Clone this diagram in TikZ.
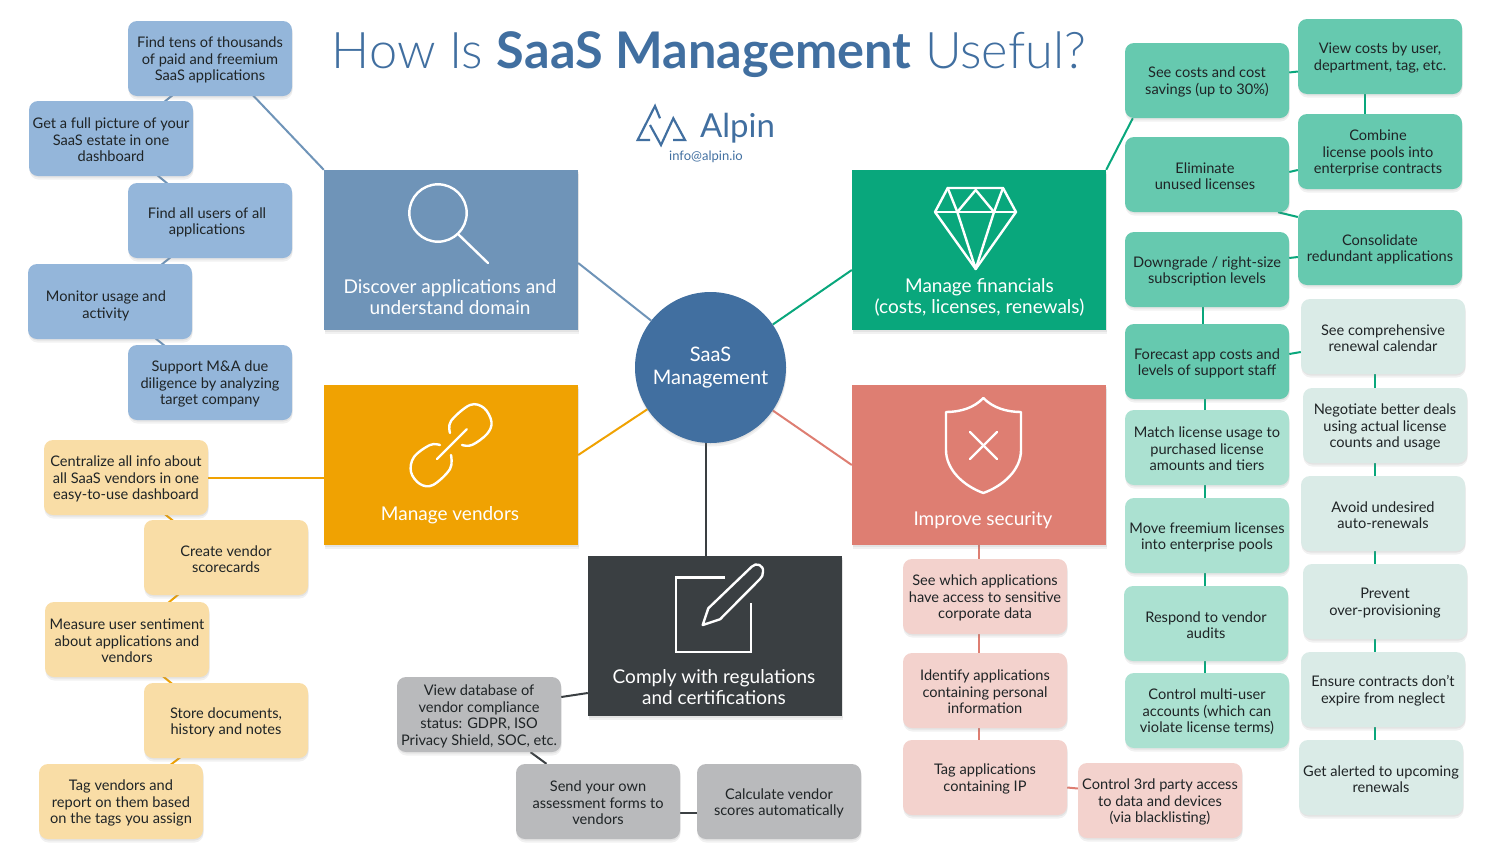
\documentclass[tikz,border=0pt]{standalone}
\usepackage{fontspec}
\setmainfont{Lato}
\newfontfamily\thinfont{Lato Light}
\usetikzlibrary{shadows,backgrounds}

\definecolor{hubblue}{HTML}{416FA0}
\definecolor{discblue}{HTML}{6F94B8}
\definecolor{lightblue}{HTML}{94B6DA}
\definecolor{vendorange}{HTML}{F0A202}
\definecolor{lightorange}{HTML}{F9DDA6}
\definecolor{fingreen}{HTML}{09A77C}
\definecolor{midgreen}{HTML}{66C9AF}
\definecolor{palegreen}{HTML}{ABE1D1}
\definecolor{mistgreen}{HTML}{DAEBE7}
\definecolor{secred}{HTML}{DE7E72}
\definecolor{lightred}{HTML}{F3D2CD}
\definecolor{slate}{HTML}{3A3F42}
\definecolor{lightgray}{HTML}{B9BABC}
\definecolor{inktext}{HTML}{1F2426}

\begin{document}
\begin{tikzpicture}[x=1pt,y=-1pt,
    softshadow/.style={drop shadow={opacity=.12,shadow xshift=0.5pt,shadow yshift=-1.5pt},
        drop shadow={opacity=.11,shadow xshift=0.5pt,shadow yshift=-3.5pt}},
    itembox/.style={rounded corners=9pt,minimum width=164pt,minimum height=75pt,inner sep=0pt,
        align=center,text=inktext,font=\fontsize{14.6}{16.5}\selectfont,softshadow},
    mainbox/.style={minimum width=254pt,minimum height=160pt,inner sep=0pt,softshadow},
    maincap/.style={inner sep=0pt,align=center,text=white,font=\fontsize{19}{21}\selectfont},
    icon/.style={draw=white,line width=2.4pt,line join=round,line cap=round},
    link/.style={line width=2pt}]
\useasboundingbox (0,0) rectangle (1492,863);

% Title and logo
\node[inner sep=0pt,text=hubblue,font=\fontsize{50.5}{54}\selectfont] (title) at (709,54.5)
    {{\thinfont How Is }\textbf{SaaS Management}{\thinfont{} Useful?}};
\node[inner sep=0pt,text=hubblue,font=\fontsize{33}{36}\selectfont] (alpin) at (737.5,128) {Alpin};
\node[inner sep=0pt,text=hubblue,font=\fontsize{13}{15}\selectfont] (mail) at (706,156.5) {info@alpin.io};
\draw[hubblue,line width=2.2pt,line join=miter] (660,118.3) -- (655,106) -- (637.7,140) -- (650,140);
\draw[hubblue,line width=2.2pt,line join=miter] (650,125) -- (661,145) -- (673.3,118.3) -- (685,140) -- (673,140);

% Hub
\node[circle,fill=hubblue,minimum size=151pt,inner sep=0pt,softshadow,align=center,text=white,
    font=\fontsize{20}{23}\selectfont] (hub) at (710.5,367.5) {SaaS\\Management};

% Main boxes
\foreach \name/\x/\y/\col in {discover/451/250/discblue,vendors/451/465/vendorange,
    financials/979/250/fingreen,security/979/465/secred,comply/715/636/slate} {
    \node[mainbox,fill=\col] (\name) at (\x,\y) {};
}
\node[maincap] (discover-cap) at (450,297) {Discover applications and\\understand domain};
\node[maincap] (vendors-cap) at (450,515.5) {Manage vendors};
\node[maincap] (financials-cap) at (979.5,297) {Manage financials\\(costs, licenses, renewals)};
\node[maincap] (security-cap) at (983,520.5) {Improve security};
\node[maincap] (comply-cap) at (714,687) {Comply with regulations\\and certifications};

% Icons
\draw[icon] (438,213) circle (28.7);
\draw[icon] (459,235) -- (488,263);
\draw[icon] (935,212) -- (947.7,188) -- (1003,188) -- (1016,212) -- (975.7,269) -- cycle;
\draw[icon] (935,212) -- (1016,212);
\draw[icon] (947.7,188) -- (957.3,212) -- (975.7,269) -- (994,212) -- (1003,188);
\draw[icon] (957.3,212) -- (975.7,190) -- (994,212);
\draw[icon] (983.3,398) .. controls (974,408) and (960,412) .. (946,412) -- (946,450)
    .. controls (946,470) and (964,486) .. (983.3,493)
    .. controls (1003,486) and (1021,470) .. (1021,450) -- (1021,412)
    .. controls (1007,412) and (993,408) .. cycle;
\draw[icon] (970,432) -- (997,459);
\draw[icon] (997,432) -- (970,459);
\draw[icon] plot[smooth,tension=.6] coordinates {(450,433) (451,421) (470,405) (484,408) (491.5,422) (487,434) (472,445) (462,445)};
\draw[icon] plot[smooth,tension=.6] coordinates {(440,445) (430,445) (414,457) (411,472) (420,484) (433,485) (450,469) (451,455)};
\draw[icon] (437,459) -- (466.7,429.3);
\draw[icon,line cap=butt,line join=miter] (725,577.3) -- (676,577.3) -- (676,651.7) -- (751,651.7) -- (751,603.3);
\draw[icon] (702.7,625) -- (708.3,608.3) -- (751.7,566.7) .. controls (756,562) and (764,565) .. (763,572)
    .. controls (763,575) and (762,577) .. (760,579) -- (720,619.3) -- cycle;

% Discover items
\foreach \name/\x/\y/\txt in {
    find/210/58.5/{Find tens of thousands\\of paid and freemium\\SaaS applications},
    picture/111/138.5/{Get a full picture of your\\SaaS estate in one\\dashboard},
    users/210/220.5/{Find all users of all\rule{6pt}{0pt}\\applications\rule{6pt}{0pt}},
    monitor/110/301.5/{\rule{0pt}{19pt}Monitor usage and\rule{8pt}{0pt}\\activity\rule{8pt}{0pt}},
    support/210/382.5/{Support M\&A due\\diligence by analyzing\\target company}} {
    \node[itembox,fill=lightblue] (\name) at (\x,\y) {\rule{0pt}{14pt}\txt};
}

% Vendor items
\foreach \name/\x/\y/\txt in {
    central/126/477.5/{Centralize all info about\\all SaaS vendors in one\\easy-to-use dashboard},
    score/226/557.5/{Create vendor\\scorecards},
    measure/127/639.5/{Measure user sentiment\\about applications and\\vendors},
    store/226/720.5/{Store documents,\\history and notes},
    tag/121/801.5/{Tag vendors and\\report on them based\\on the tags you assign}} {
    \node[itembox,fill=lightorange] (\name) at (\x,\y) {\rule{0pt}{14pt}\txt};
}

% Compliance items
\foreach \name/\x/\y/\txt in {
    database/479/714.5/{View database of\\vendor compliance\\status: GDPR, ISO\\Privacy Shield, SOC, etc.},
    forms/598/801.5/{Send your own\\assessment forms to\\vendors},
    calc/779/801.5/{Calculate vendor\\scores automatically}} {
    \node[itembox,fill=lightgray] (\name) at (\x,\y) {\rule{0pt}{14pt}\txt};
}

% Security items
\foreach \name/\x/\y/\txt in {
    sensitive/985/596.5/{See which applications\\have access to sensitive\\corporate data},
    personal/985/690.5/{Identify applications\\containing personal\\information},
    ip/985/777.5/{Tag applications\\containing IP},
    third/1160/800.5/{Control 3rd party access\\to data and devices\\(via blacklisting)}} {
    \node[itembox,fill=lightred] (\name) at (\x,\y) {\rule{0pt}{14pt}\txt};
}

% Financial items
\foreach \name/\x/\y/\txt in {
    costs/1207/80.5/{See costs and cost\\savings (up to 30\%)},
    unused/1207/174.5/{Eliminate\rule{4pt}{0pt}\\unused licenses\rule{4pt}{0pt}},
    down/1207/269.5/{Downgrade / right-size\\subscription levels},
    forecast/1207/361.5/{Forecast app costs and\\levels of support staff},
    view/1380/56.5/{View costs by user,\\department, tag, etc.},
    pools/1380/151.5/{Combine\rule{4pt}{0pt}\\license pools into\rule{4pt}{0pt}\\enterprise contracts\rule{4pt}{0pt}},
    redundant/1380/247.5/{Consolidate\\redundant applications}} {
    \node[itembox,fill=midgreen] (\name) at (\x,\y) {\rule{0pt}{14pt}\txt};
}
\foreach \name/\x/\y/\txt in {
    usage/1207/447.5/{Match license usage to\\purchased license\\amounts and tiers},
    freemium/1207/535.5/{Move freemium licenses\\into enterprise pools},
    audits/1206/623.5/{Respond to vendor\\audits},
    multi/1207/710.5/{Control multi-user\\accounts (which can\\violate license terms)}} {
    \node[itembox,fill=palegreen] (\name) at (\x,\y) {\rule{0pt}{14pt}\txt};
}
\foreach \name/\x/\y/\txt in {
    calendar/1383/336.5/{See comprehensive\\renewal calendar},
    deals/1385/425.5/{Negotiate better deals\\using actual license\\counts and usage},
    avoid/1383/513.5/{Avoid undesired\\auto-renewals},
    prevent/1385/601.5/{Prevent\\over-provisioning},
    ensure/1383/689.5/{Ensure contracts don't\\expire from neglect},
    alerted/1381/777.5/{Get alerted to upcoming\\renewals}} {
    \node[itembox,fill=mistgreen] (\name) at (\x,\y) {\rule{0pt}{14pt}\txt};
}

% Connectors
\coordinate (redline) at (979,0);
\coordinate (licline) at (1205,0);
\coordinate (calline) at (1375,0);
\begin{scope}[on background layer]
\draw[link,discblue] (hub) -- ([yshift=-13pt]discover.east);
\draw[link,vendorange] (hub) -- ([yshift=10pt]vendors.east);
\draw[link,fingreen] (hub) -- ([yshift=-20pt]financials.west);
\draw[link,secred] (hub) -- (security.west);
\draw[link,slate] ([xshift=-4.5pt]hub.south) -- ([xshift=-9pt]comply.north);

% Discover
\draw[link,discblue] ([xshift=8pt]find.center) -- (discover.north west);
\foreach \a/\b/\dx in {find/picture/8,picture/users/2,users/monitor/6,monitor/support/0} {
    \draw[link,discblue] ([xshift=\dx pt]\a.center) -- ([xshift=\dx pt]\b.center);
}
% Vendors
\draw[link,vendorange] (central) -- (central -| vendors.west);
\foreach \a/\b/\dx in {central/score/-7,score/measure/-3,measure/store/-9,store/tag/2} {
    \draw[link,vendorange] ([xshift=\dx pt]\a.center) -- ([xshift=\dx pt]\b.center);
}
% Compliance
\draw[link,slate] ([yshift=17.5pt]database.east) -- ([yshift=-57pt]comply.west);
\draw[link,slate] (database) -- (forms);
\draw[link,slate] ([yshift=-11pt]forms.east) -- ([yshift=-11pt]calc.west);
% Security
\foreach \a/\b in {security/sensitive,sensitive/personal,personal/ip} {
    \draw[link,secred] (\a.south -| redline) -- (\b.north -| redline);
}
\draw[link,secred] ([yshift=-10pt]ip.east) -- ([yshift=12pt]third.west);
% Financials
\draw[link,fingreen] (financials.north east) -- ([xshift=8pt]costs.south west);
\draw[link,fingreen] ([yshift=8pt]costs.east) -- ([yshift=-15pt]view.west);
\draw[link,fingreen] ([xshift=-15pt]view.south) -- ([xshift=-15pt]pools.north);
\draw[link,fingreen] ([yshift=2.5pt]unused.east) -- ([yshift=-18.5pt]pools.west);
\draw[link,fingreen] ([xshift=71pt]unused.south) -- ([yshift=30.5pt]redundant.west);
\draw[link,fingreen] ([yshift=11.5pt]down.east) -- ([yshift=-9.5pt]redundant.west);
\draw[link,fingreen] ([xshift=-4pt]down.south) -- ([xshift=-4pt]forecast.north);
\draw[link,fingreen] ([yshift=7.5pt]forecast.east) -- ([yshift=-15.5pt]calendar.west);
\foreach \a/\b in {forecast/usage,usage/freemium,freemium/audits,audits/multi} {
    \draw[link,fingreen] (\a.south -| licline) -- (\b.north -| licline);
}
\foreach \a/\b in {calendar/deals,deals/avoid,avoid/prevent,prevent/ensure,ensure/alerted} {
    \draw[link,fingreen] (\a.south -| calline) -- (\b.north -| calline);
}
\end{scope}
\end{tikzpicture}
\end{document}
